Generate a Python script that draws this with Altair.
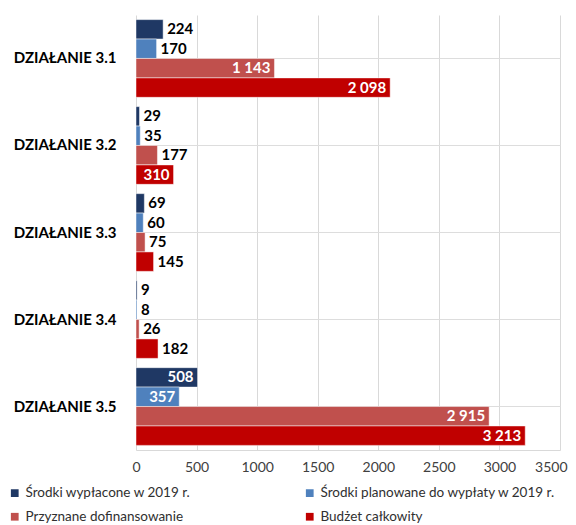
import altair as alt
import pandas as pd

categories = ["DZIAŁANIE 3.1", "DZIAŁANIE 3.2", "DZIAŁANIE 3.3", "DZIAŁANIE 3.4", "DZIAŁANIE 3.5"]
series = [
    "Środki wypłacone w 2019 r.",
    "Środki planowane do wypłaty w 2019 r.",
    "Przyznane dofinansowanie",
    "Budżet całkowity",
]
wyplacone = [224, 29, 69, 9, 508]
planowane = [170, 35, 60, 8, 357]
przyznane = [1143, 177, 75, 26, 2915]
budzet = [2098, 310, 145, 182, 3213]
colors = ["#1F3864", "#4F81BD", "#C0504D", "#C00000"]
x_ticks = [0, 500, 1000, 1500, 2000, 2500, 3000, 3500]

rows = []
for s, vals in zip(series, [wyplacone, planowane, przyznane, budzet]):
    for c, v in zip(categories, vals):
        rows.append({"cat": c, "series": s, "value": v,
                     "label": f"{v:,}".replace(",", " ")})
df = pd.DataFrame(rows)

FONT = "Lato"

y_enc = alt.Y("cat:N", sort=categories,
              scale=alt.Scale(paddingInner=0.107, paddingOuter=0.053),
              axis=alt.Axis(title=None, ticks=False, domain=False, labelPadding=20,
                            labelFont=FONT, labelFontSize=15, labelFontWeight="bold",
                            labelColor="#000000", labelLimit=200))
yoff = alt.YOffset("series:N", sort=series)
x_scale = alt.Scale(domain=[0, 3500], nice=False)

base = alt.Chart(df)

last_tick = "datum.value == 3500"

bars = base.mark_bar(stroke="white", strokeWidth=0.8, strokeOpacity=0.6).encode(
    y=y_enc,
    yOffset=yoff,
    x=alt.X("value:Q", scale=x_scale,
            axis=alt.Axis(title=None, values=x_ticks, format="d", ticks=False,
                          labelPadding=10, labelFont=FONT, labelFontSize=14,
                          labelColor="#404040", gridColor="#d9d9d9",
                          domainColor="#d9d9d9", labelFlush=False,
                          labelAlign={"condition": {"test": last_tick, "value": "right"},
                                      "value": "center"},
                          labelOffset={"condition": {"test": last_tick, "value": 7},
                                       "value": 0})),
    color=alt.Color("series:N", sort=series,
                    scale=alt.Scale(domain=series, range=colors),
                    legend=alt.Legend(title=None, orient="none", legendX=-128, legendY=471,
                                      direction="horizontal",
                                      columns=2, columnPadding=112, rowPadding=9,
                                      symbolType="square", symbolSize=60,
                                      symbolStrokeWidth=0, labelOffset=4,
                                      labelFont=FONT, labelFontSize=13.5,
                                      labelColor="#303030", labelLimit=400)),
)

outside = base.transform_filter("datum.value < 300").mark_text(
    align="left", baseline="middle", dx=4, font=FONT, fontSize=15,
    fontWeight="bold", color="#000000").encode(
    y=alt.Y("cat:N", sort=categories), yOffset=yoff,
    x=alt.X("value:Q", scale=x_scale), text="label:N")

inside = base.transform_filter("datum.value >= 300").mark_text(
    align="right", baseline="middle", dx=-4, font=FONT, fontSize=15,
    fontWeight="bold", color="#ffffff").encode(
    y=alt.Y("cat:N", sort=categories), yOffset=yoff,
    x=alt.X("value:Q", scale=x_scale), text="label:N")

chart = alt.layer(bars, outside, inside).properties(
    width=424, height=435,
    autosize=alt.AutoSizeParams(type="none"),
    padding={"left": 128, "top": 7, "right": 8, "bottom": 75},
).configure_view(stroke=None).configure_axis(grid=True)

chart.save("out.html", embed_options={"renderer": "svg", "actions": False})
